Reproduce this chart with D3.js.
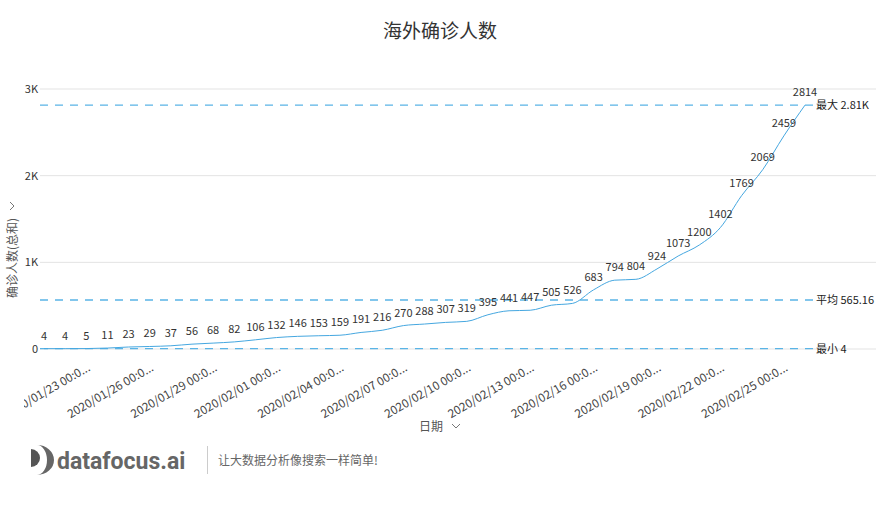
<!DOCTYPE html>
<html>
<head>
<meta charset="utf-8">
<script src="https://cdn.jsdelivr.net/npm/d3@7"></script>
<style>
  body { margin: 0; background: #fff; }
  svg { font-family: "Noto Sans CJK SC", "Open Sans", sans-serif; }
</style>
</head>
<body>
<svg width="881" height="525"></svg>
<script>
const dates = [
  "2020/01/23","2020/01/24","2020/01/25","2020/01/26","2020/01/27","2020/01/28","2020/01/29",
  "2020/01/30","2020/01/31","2020/02/01","2020/02/02","2020/02/03","2020/02/04","2020/02/05",
  "2020/02/06","2020/02/07","2020/02/08","2020/02/09","2020/02/10","2020/02/11","2020/02/12",
  "2020/02/13","2020/02/14","2020/02/15","2020/02/16","2020/02/17","2020/02/18","2020/02/19",
  "2020/02/20","2020/02/21","2020/02/22","2020/02/23","2020/02/24","2020/02/25","2020/02/26",
  "2020/02/27","2020/02/28"
];
const cases = [4,4,5,11,23,29,37,56,68,82,106,132,146,153,159,191,216,270,288,307,319,
  395,441,447,505,526,683,794,804,924,1073,1200,1402,1769,2069,2459,2814];
const tickDates = ["2020/01/23","2020/01/26","2020/01/29","2020/02/01","2020/02/04","2020/02/07",
  "2020/02/10","2020/02/13","2020/02/16","2020/02/19","2020/02/22","2020/02/25"];
const yTicks = [0, 1000, 2000, 3000];

const svg = d3.select('svg');

const x = d3.scalePoint().domain(dates).range([44, 805]);
const y = d3.scaleLinear().domain([0, 3000]).range([349, 89]);

// title
svg.append('text')
  .attr('x', 440).attr('y', 38)
  .attr('text-anchor', 'middle')
  .attr('font-size', 19).attr('fill', '#333')
  .text('海外确诊人数');

// gridlines + y labels
yTicks.forEach(t => {
  svg.append('line')
    .attr('x1', 40).attr('x2', 876)
    .attr('y1', y(t)).attr('y2', y(t))
    .attr('stroke', '#e3e3e3').attr('stroke-width', 1);
  svg.append('text')
    .attr('x', 38).attr('y', y(t) + 4)
    .attr('text-anchor', 'end')
    .attr('font-size', 11).attr('fill', '#333')
    .text(d3.format('~s')(t).replace('k', 'K'));
});

// y axis title
const yTitle = svg.append('g').attr('transform', 'translate(17,258) rotate(-90)');
yTitle.append('text')
  .attr('text-anchor', 'middle')
  .attr('font-size', 12).attr('fill', '#555')
  .text('确诊人数(总和)');
yTitle.append('path')
  .attr('d', 'M48,-7 L52,-3 L56,-7')
  .attr('fill', 'none').attr('stroke', '#777').attr('stroke-width', 1);

// x tick labels (clipped on the left like the source)
svg.append('clipPath').attr('id', 'xclip')
  .append('rect').attr('x', 24).attr('y', 350).attr('width', 857).attr('height', 70);
const xLabels = svg.append('g').attr('clip-path', 'url(#xclip)');
tickDates.forEach(d => {
  xLabels.append('text')
    .attr('transform', `translate(${x(d) + 47},370) rotate(-30)`)
    .attr('text-anchor', 'end')
    .attr('font-size', 11.8).attr('fill', '#444')
    .text(d + ' 00:0...');
});

// x axis title
svg.append('text')
  .attr('x', 431).attr('y', 431)
  .attr('text-anchor', 'middle')
  .attr('font-size', 12).attr('fill', '#555')
  .text('日期');
svg.append('path')
  .attr('d', 'M452,424 L456,428 L460,424')
  .attr('fill', 'none').attr('stroke', '#777').attr('stroke-width', 1);

// reference lines
const maxV = d3.max(cases), minV = d3.min(cases), avgV = d3.mean(cases);
const refs = [
  { v: maxV, label: '最大 ' + (maxV / 1000).toFixed(2) + 'K' },
  { v: avgV, label: '平均 ' + avgV.toFixed(2) },
  { v: minV, label: '最小 ' + minV }
];
refs.forEach(r => {
  svg.append('line')
    .attr('x1', 40).attr('x2', 815)
    .attr('y1', y(r.v)).attr('y2', y(r.v))
    .attr('stroke', '#5ab4e6').attr('stroke-width', 1.3)
    .attr('stroke-dasharray', '8,7');
  svg.append('text')
    .attr('x', 816).attr('y', y(r.v) + 4)
    .attr('font-size', 11).attr('fill', '#222')
    .text(r.label);
});

// line
const line = d3.line()
  .x((d, i) => x(dates[i]))
  .y(d => y(d))
  .curve(d3.curveMonotoneX);
svg.append('path')
  .datum(cases)
  .attr('d', line)
  .attr('fill', 'none')
  .attr('stroke', '#45a7e0')
  .attr('stroke-width', 1);

// value labels
svg.selectAll('.vlabel')
  .data(cases)
  .enter().append('text')
  .attr('class', 'vlabel')
  .attr('x', (d, i) => x(dates[i]))
  .attr('y', d => y(d) - 9)
  .attr('text-anchor', 'middle')
  .attr('font-size', 11).attr('fill', '#333')
  .text(d => d);

// logo
const logo = svg.append('g');
logo.append('path')
  .attr('d', 'M31,449 A9,9 0 0 1 31,467 Z')
  .attr('fill', '#555');
logo.append('path')
  .attr('d', 'M37,445 A17,15 0 0 1 37,475 A10,15 0 0 0 37,445 Z')
  .attr('fill', '#666');
logo.append('text')
  .attr('x', 57).attr('y', 469)
  .attr('font-family', 'Roboto, "Open Sans", sans-serif')
  .attr('font-weight', 'bold')
  .attr('font-size', 23).attr('fill', '#666')
  .text('datafocus.ai');
logo.append('line')
  .attr('x1', 207.5).attr('x2', 207.5).attr('y1', 446).attr('y2', 474)
  .attr('stroke', '#ccc');
logo.append('text')
  .attr('x', 218).attr('y', 465)
  .attr('font-size', 12).attr('fill', '#666')
  .text('让大数据分析像搜索一样简单!');
</script>
</body>
</html>
